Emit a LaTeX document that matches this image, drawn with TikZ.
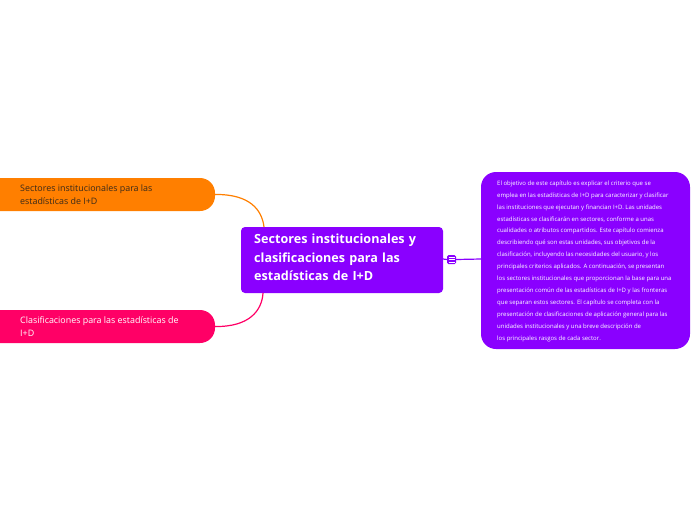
\documentclass[tikz,border=0pt]{standalone}
\usepackage{fontspec}
\setmainfont{Open Sans}
\definecolor{cpurple}{HTML}{8A00FF}
\definecolor{corange}{HTML}{FF7F00}
\definecolor{cpink}{HTML}{FF0066}
\definecolor{ctext}{HTML}{3A2A1A}
\begin{document}
\begin{tikzpicture}[x=1pt,y=-1pt,
  mainbox/.style={fill=cpurple, rounded corners=4pt, text=white, font=\fontsize{12.6}{18.5}\selectfont\bfseries, align=left, inner sep=0pt},
  subbox/.style={rounded corners=15pt, align=left, inner sep=0pt, font=\fontsize{8.9}{12.5}\selectfont},
  notebox/.style={fill=cpurple, rounded corners=15pt, text=white, align=left, inner sep=0pt, font=\fontsize{6}{11.9}\selectfont},
  conn/.style={line width=1.2pt}]
\useasboundingbox (0,0) rectangle (696,520);
% main node
\fill[cpurple, rounded corners=4pt] (241,227) rectangle (443,293);
\node[mainbox, anchor=north west, text width=185pt] (main) at (254,234) {Sectores institucionales y\\clasificaciones para las\\estadísticas de I+D};
\coordinate (mainR) at (443,259);
\coordinate (mainT) at (264,227);
\coordinate (mainB) at (263,293);
% orange node
\fill[corange, rounded corners=15pt] (-20,178) rectangle (215,211);
\node[subbox, text=ctext, anchor=west] (orange) at (20,194.5) {Sectores institucionales para las\\estadísticas de I+D};
\coordinate (orangeR) at (215,194.5);
% pink node
\fill[cpink, rounded corners=15pt] (-20,310) rectangle (215,343);
\node[subbox, text=white, anchor=west] (pink) at (20,326.5) {Clasificaciones para las estadísticas de\\I+D};
\coordinate (pinkR) at (215,326.5);
% connectors
\draw[conn, corange] (orangeR) .. controls (250,194) and (262,210) .. (mainT);
\draw[conn, cpink] (pinkR) .. controls (250,327) and (262,310) .. (mainB);
% note
\fill[cpurple, rounded corners=15pt] (481,172) rectangle (690,349);
\node[notebox, anchor=north west] (note) at (497,180.5) {El objetivo de este capítulo es explicar el criterio que se\\
emplea en las estadísticas de I+D para caracterizar y clasificar\\
las instituciones que ejecutan y financian I+D. Las unidades\\
estadísticas se clasificarán en sectores, conforme a unas\\
cualidades o atributos compartidos. Este capítulo comienza\\
describiendo qué son estas unidades, sus objetivos de la\\
clasificación, incluyendo las necesidades del usuario, y los\\
principales criterios aplicados. A continuación, se presentan\\
los sectores institucionales que proporcionan la base para una\\
presentación común de las estadísticas de I+D y las fronteras\\
que separan estos sectores. El capítulo se completa con la\\
presentación de clasificaciones de aplicación general para las\\
unidades institucionales y una breve descripción de\\
los principales rasgos de cada sector.};
\coordinate (noteL) at (481,259);
% icon
\node[fill=cpurple, rounded corners=1.5pt, minimum width=9pt, minimum height=9pt, inner sep=0pt] (icon) at (451.5,259.5) {};
\draw[white, line width=0.7pt] (448.5,257) -- (454.5,257) (448.5,259.5) -- (454.5,259.5) (448.5,262) -- (454.5,262);
\draw[conn, cpurple] (mainR) -- (icon.west);
\draw[conn, cpurple] (icon.east) -- (noteL);
\end{tikzpicture}
\end{document}
